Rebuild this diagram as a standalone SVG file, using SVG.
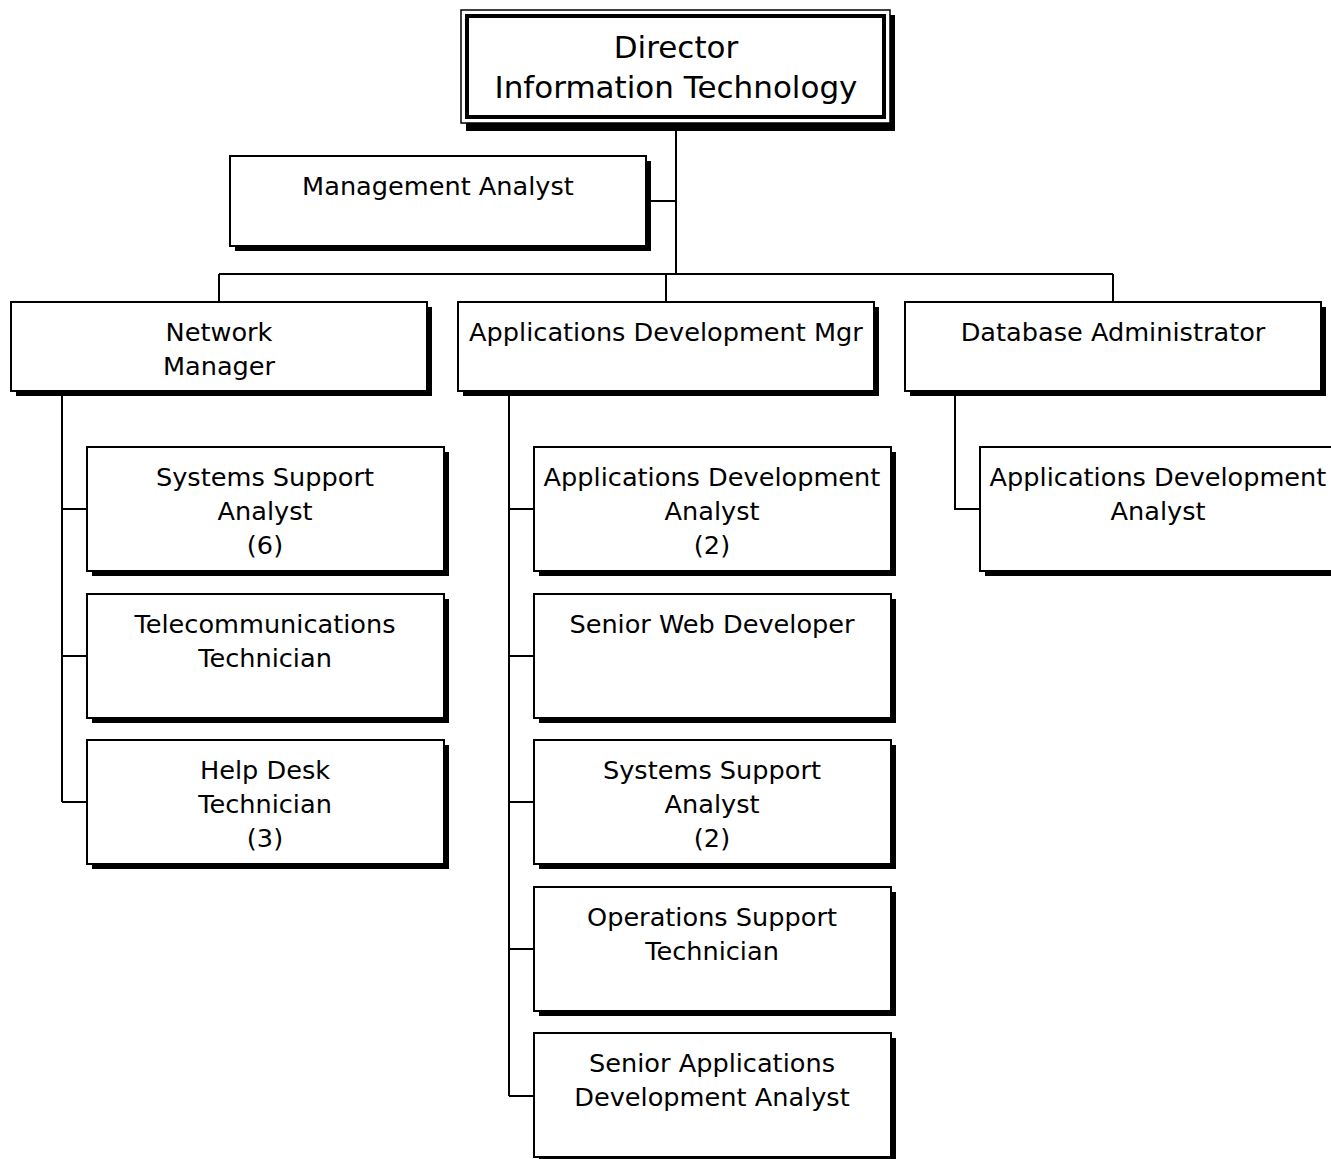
<svg xmlns="http://www.w3.org/2000/svg" width="1331" height="1159" viewBox="0 0 1331 1159">
  <style>
    .box { fill: #fff; stroke: #000; stroke-width: 2; }
    .shadow { fill: #000; }
    .lbl { font-family: "DejaVu Sans", sans-serif; font-size: 25.6px; fill: #000; text-anchor: middle; }
    .big { font-size: 31px; }
    .wire { fill: none; stroke: #000; stroke-width: 2; }
  </style>
  <rect width="1331" height="1159" fill="#fff"/>

  <g id="connectors">
    <path class="wire" d="M676 126 V274 M646 201 H676 M219 274 H1113 M219 274 V302 M666 274 V302 M1113 274 V302"/>
    <path class="wire" d="M62 391 V802 M62 509 H87 M62 656 H87 M62 802 H87"/>
    <path class="wire" d="M509 391 V1096 M509 509 H534 M509 656 H534 M509 802 H534 M509 949 H534 M509 1096 H534"/>
    <path class="wire" d="M955 391 V509 H980"/>
  </g>

  <g id="director">
    <rect class="shadow" x="466" y="15" width="429" height="116"/>
    <rect x="461" y="10" width="429" height="113" fill="#fff" stroke="#000" stroke-width="1.5"/>
    <rect x="467" y="16" width="417" height="101" fill="none" stroke="#000" stroke-width="4"/>
    <text class="lbl big" x="676" y="58">Director</text>
    <text class="lbl big" x="676" y="98">Information Technology</text>
  </g>

  <g id="management-analyst">
    <rect class="shadow" x="235" y="161" width="416" height="90"/>
    <rect class="box" x="230" y="156" width="416" height="90"/>
    <text class="lbl" x="438" y="195">Management Analyst</text>
  </g>

  <g id="network-manager">
    <rect class="shadow" x="16" y="307" width="416" height="89"/>
    <rect class="box" x="11" y="302" width="416" height="89"/>
    <text class="lbl" x="219" y="341">Network</text>
    <text class="lbl" x="219" y="375">Manager</text>
  </g>

  <g id="apps-dev-mgr">
    <rect class="shadow" x="463" y="307" width="416" height="89"/>
    <rect class="box" x="458" y="302" width="416" height="89"/>
    <text class="lbl" x="666" y="341">Applications Development Mgr</text>
  </g>

  <g id="database-administrator">
    <rect class="shadow" x="910" y="307" width="416" height="89"/>
    <rect class="box" x="905" y="302" width="416" height="89"/>
    <text class="lbl" x="1113" y="341">Database Administrator</text>
  </g>

  <g id="nm-systems-support-analyst">
    <rect class="shadow" x="92" y="452" width="357" height="124"/>
    <rect class="box" x="87" y="447" width="357" height="124"/>
    <text class="lbl" x="265" y="486">Systems Support</text>
    <text class="lbl" x="265" y="520">Analyst</text>
    <text class="lbl" x="265" y="554">(6)</text>
  </g>

  <g id="telecommunications-technician">
    <rect class="shadow" x="92" y="599" width="357" height="124"/>
    <rect class="box" x="87" y="594" width="357" height="124"/>
    <text class="lbl" x="265" y="633">Telecommunications</text>
    <text class="lbl" x="265" y="667">Technician</text>
  </g>

  <g id="help-desk-technician">
    <rect class="shadow" x="92" y="745" width="357" height="124"/>
    <rect class="box" x="87" y="740" width="357" height="124"/>
    <text class="lbl" x="265" y="779">Help Desk</text>
    <text class="lbl" x="265" y="813">Technician</text>
    <text class="lbl" x="265" y="847">(3)</text>
  </g>

  <g id="apps-dev-analyst">
    <rect class="shadow" x="539" y="452" width="357" height="124"/>
    <rect class="box" x="534" y="447" width="357" height="124"/>
    <text class="lbl" x="712" y="486">Applications Development</text>
    <text class="lbl" x="712" y="520">Analyst</text>
    <text class="lbl" x="712" y="554">(2)</text>
  </g>

  <g id="senior-web-developer">
    <rect class="shadow" x="539" y="599" width="357" height="124"/>
    <rect class="box" x="534" y="594" width="357" height="124"/>
    <text class="lbl" x="712" y="633">Senior Web Developer</text>
  </g>

  <g id="ad-systems-support-analyst">
    <rect class="shadow" x="539" y="745" width="357" height="124"/>
    <rect class="box" x="534" y="740" width="357" height="124"/>
    <text class="lbl" x="712" y="779">Systems Support</text>
    <text class="lbl" x="712" y="813">Analyst</text>
    <text class="lbl" x="712" y="847">(2)</text>
  </g>

  <g id="operations-support-technician">
    <rect class="shadow" x="539" y="892" width="357" height="124"/>
    <rect class="box" x="534" y="887" width="357" height="124"/>
    <text class="lbl" x="712" y="926">Operations Support</text>
    <text class="lbl" x="712" y="960">Technician</text>
  </g>

  <g id="senior-apps-dev-analyst">
    <rect class="shadow" x="539" y="1038" width="357" height="124"/>
    <rect class="box" x="534" y="1033" width="357" height="124"/>
    <text class="lbl" x="712" y="1072">Senior Applications</text>
    <text class="lbl" x="712" y="1106">Development Analyst</text>
  </g>

  <g id="dba-apps-dev-analyst">
    <rect class="shadow" x="985" y="452" width="357" height="124"/>
    <rect class="box" x="980" y="447" width="357" height="124"/>
    <text class="lbl" x="1158" y="486">Applications Development</text>
    <text class="lbl" x="1158" y="520">Analyst</text>
  </g>
</svg>
